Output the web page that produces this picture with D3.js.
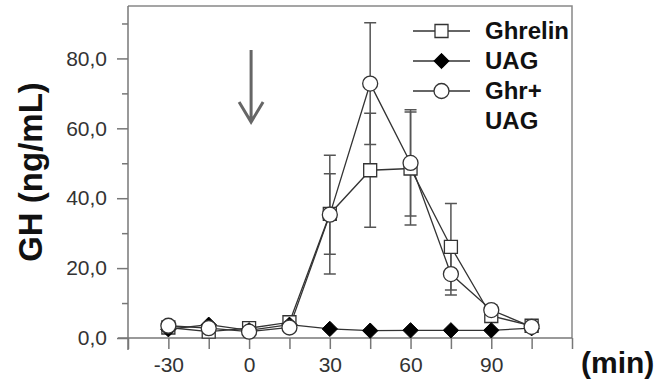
<!DOCTYPE html>
<html>
<head>
<meta charset="utf-8">
<script src="https://cdn.jsdelivr.net/npm/d3@7"></script>
<style>
  body { margin: 0; background: #fff; }
  svg { font-family: "Liberation Sans", Arial, sans-serif; }
</style>
</head>
<body>
<div id="chart"></div>
<script>
// data (GH in ng/mL, mean and error)
var times = [-30, -15, 0, 15, 30, 45, 60, 75, 90, 105];
var ghrelin = [3.0, 1.8, 2.8, 4.5, 35.5, 48.0, 48.5, 26.1, 6.3, 3.5];
var ghrelinErr = [1.5, 1.0, 1.0, 1.5, 11.5, 16.3, 16.2, 12.4, 1.5, 1.0];
var uag = [2.5, 3.8, 2.2, 3.8, 2.6, 2.1, 2.2, 2.2, 2.2, 2.8];
var ghrUag = [3.5, 2.8, 1.8, 3.0, 35.3, 72.8, 50.1, 18.3, 8.0, 3.2];
var ghrUagErr = [1.0, 1.0, 0.8, 1.0, 17.0, 17.4, 15.2, 6.0, 1.5, 1.0];
var xTicks = [-45, -30, -15, 0, 15, 30, 45, 60, 75, 90, 105, 120];
var xLabels = [-30, 0, 30, 60, 90];
var yTicks = [0, 10, 20, 30, 40, 50, 60, 70, 80, 90];
var yLabels = [0, 20, 40, 60, 80];
var legendNames = ["Ghrelin", "UAG", "Ghr+", "UAG"];

var svgWidth = 666, svgHeight = 381;
var svg = d3.select("#chart").append("svg")
  .attr("width", svgWidth)
  .attr("height", svgHeight);

var x = d3.scaleLinear().domain([-45, 120]).range([128, 572]);
var y = d3.scaleLinear().domain([0, 95]).range([338, 6]);

var axisColor = "#777";
var lineColor = "#333";

// frame top/right
svg.append("path")
  .attr("d", `M${x(-45)},${y(95)}H${x(120)}V${y(0)}`)
  .attr("fill", "none")
  .attr("stroke", "#888")
  .attr("stroke-width", 1.5);

// x axis
var xAxis = svg.append("g")
  .attr("transform", `translate(0, ${y(0)})`)
  .call(d3.axisBottom(x).tickValues(xTicks).tickSize(11).tickPadding(8)
    .tickFormat(d => xLabels.indexOf(d) >= 0 ? String(d) : ""));
xAxis.select(".domain").attr("d", `M${x(-45) - 10},0H${x(120)}`);

// y axis
var yAxis = svg.append("g")
  .attr("transform", `translate(${x(-45)}, 0)`)
  .call(d3.axisLeft(y).tickValues(yTicks).tickSize(11).tickPadding(10)
    .tickFormat(d => yLabels.indexOf(d) >= 0 ? d.toFixed(1).replace(".", ",") : ""));
yAxis.selectAll(".tick line")
  .attr("x2", d => yLabels.indexOf(d) >= 0 ? -11 : -6);
yAxis.select(".domain").attr("d", `M0,${y(95)}V${y(0) + 12}`);

svg.selectAll(".tick line, .domain")
  .attr("stroke", axisColor)
  .attr("stroke-width", 1.5);
svg.selectAll(".tick text")
  .attr("font-size", 21)
  .attr("fill", "#333");

// axis titles
svg.append("text")
  .attr("transform", `translate(42, 172) rotate(-90)`)
  .attr("text-anchor", "middle")
  .attr("font-size", 33)
  .attr("font-weight", "bold")
  .attr("fill", "#111")
  .text("GH (ng/mL)");

svg.append("text")
  .attr("x", 581)
  .attr("y", 373)
  .attr("font-size", 30)
  .attr("font-weight", "bold")
  .attr("fill", "#111")
  .text("(min)");

// arrow at injection time
var ax = x(0) + 2;
svg.append("path")
  .attr("d", `M${ax},50V122M${ax - 12},102L${ax},122L${ax + 12},102`)
  .attr("fill", "none")
  .attr("stroke", "#666")
  .attr("stroke-width", 3);

function pts(vals) {
  return times.map((t, i) => ({t: t, v: vals[i]}));
}

var line = d3.line().x(d => x(d.t)).y(d => y(d.v));

[ghrelin, uag, ghrUag].forEach(function(vals) {
  svg.append("path")
    .datum(pts(vals))
    .attr("d", line)
    .attr("fill", "none")
    .attr("stroke", lineColor)
    .attr("stroke-width", 1.3);
});

// error bars
function errorBars(vals, errs) {
  var g = svg.append("g").attr("stroke", "#555").attr("stroke-width", 1.5);
  times.forEach(function(t, i) {
    var lo = vals[i] - errs[i], hi = vals[i] + errs[i];
    g.append("path")
      .attr("d", `M${x(t)},${y(lo)}V${y(hi)}M${x(t) - 6},${y(lo)}h12M${x(t) - 6},${y(hi)}h12`);
  });
}
errorBars(ghrelin, ghrelinErr);
errorBars(ghrUag, ghrUagErr);

// markers
var square = d3.symbol().type(d3.symbolSquare).size(169);
var diamond = d3.symbol().type(d3.symbolDiamond2).size(150);

function drawSquare(g, cx, cy) {
  g.append("path").attr("transform", `translate(${cx},${cy})`).attr("d", square())
    .attr("fill", "#fff").attr("stroke", lineColor).attr("stroke-width", 1.3);
}
function drawDiamond(g, cx, cy) {
  g.append("path").attr("transform", `translate(${cx},${cy})`).attr("d", diamond())
    .attr("fill", "#000").attr("stroke", "#000").attr("stroke-width", 1);
}
function drawCircle(g, cx, cy) {
  g.append("circle").attr("cx", cx).attr("cy", cy).attr("r", 7.5)
    .attr("fill", "#fff").attr("stroke", lineColor).attr("stroke-width", 1.3);
}

var marks = svg.append("g");
times.forEach((t, i) => drawSquare(marks, x(t), y(ghrelin[i])));
times.forEach((t, i) => drawDiamond(marks, x(t), y(uag[i])));
times.forEach((t, i) => drawCircle(marks, x(t), y(ghrUag[i])));

// legend
var legend = svg.append("g");
var drawers = [drawSquare, drawDiamond, drawCircle];
drawers.forEach(function(fn, i) {
  var ly = 31 + i * 30;
  legend.append("line")
    .attr("x1", 413).attr("x2", 470).attr("y1", ly).attr("y2", ly)
    .attr("stroke", lineColor).attr("stroke-width", 1.3);
  fn(legend, 441.5, ly);
});
legend.selectAll("text")
  .data(legendNames)
  .enter()
  .append("text")
  .attr("x", 485)
  .attr("y", (d, i) => 39 + i * 30)
  .attr("font-size", 24)
  .attr("font-weight", "bold")
  .attr("fill", "#111")
  .text(d => d);
</script>
</body>
</html>
